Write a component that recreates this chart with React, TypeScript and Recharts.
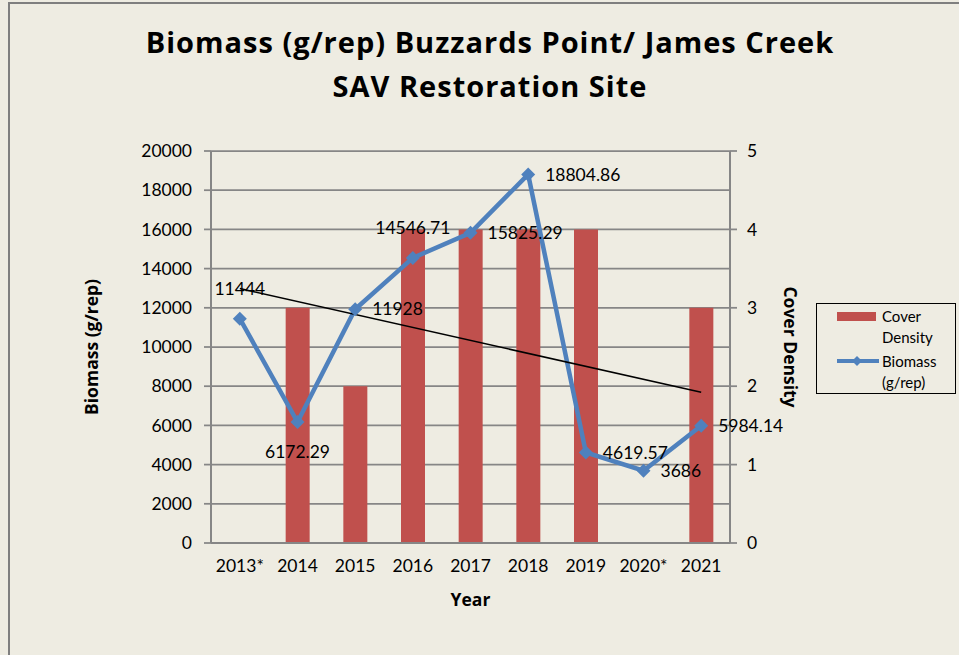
import React from 'react';
import { ComposedChart, Bar, Line, XAxis, YAxis, CartesianGrid, ReferenceLine, LabelList, Label } from 'recharts';

const years = ['2013*', '2014', '2015', '2016', '2017', '2018', '2019', '2020*', '2021'];
const coverDensity = [null, 3, 2, 4, 4, 4, 4, null, 3];
const biomass = [11444, 6172.29, 11928, 14546.71, 15825.29, 18804.86, 4619.57, 3686, 5984.14];
const biomassTicks = [0, 2000, 4000, 6000, 8000, 10000, 12000, 14000, 16000, 18000, 20000];
const densityTicks = [0, 1, 2, 3, 4, 5];
// linear trend of biomass, end values
const trendStart = 12980;
const trendEnd = 7690;

// where each biomass label sits relative to its point
const labelSide = ['top', 'bottom', 'right', 'top', 'right', 'right', 'right', 'right', 'right'];

const data = years.map((year, i) => ({ year, density: coverDensity[i], biomass: biomass[i] }));

const FONT = 'Lato, "Open Sans", sans-serif';
const BOLD_FONT = '"Open Sans", Lato, sans-serif';
const BG = '#EEECE2';
const GRID = '#868686';
const RED = '#C0504D';
const BLUE = '#4F81BD';

const Diamond = (props: any) => {
    const { cx, cy, index } = props;
    if (cx == null || cy == null) return null;
    const r = 7;
    return (
        <polygon
            key={`d-${index}`}
            points={`${cx},${cy - r} ${cx + r},${cy} ${cx},${cy + r} ${cx - r},${cy}`}
            fill={BLUE}
        />
    );
};

const BiomassLabel = (props: any) => {
    const { x, y, value, index } = props;
    const side = labelSide[index];
    let tx = x;
    let ty = y;
    let anchor = 'middle';
    if (side === 'top') ty = y - 30;
    else if (side === 'bottom') ty = y + 30;
    else {
        tx = x + 17;
        anchor = 'start';
    }
    return (
        <text x={tx} y={ty} dy="0.35em" textAnchor={anchor} fontSize={17.5} fill="#000" fontFamily={FONT}>
            {value}
        </text>
    );
};

const tickStyle = { fontSize: 17.5, fill: '#000', fontFamily: FONT };
const axisTitleStyle = { fontWeight: 700, fontSize: 17.5, fill: '#000', fontFamily: BOLD_FONT };

const App = () => {
    return (
        <div style={{ position: 'absolute', left: 0, top: 0, width: 959, height: 655, background: BG, overflow: 'hidden', fontFamily: FONT }}>
            {/* frame */}
            <div style={{ position: 'absolute', left: 8, top: 2, right: 0, bottom: 0, borderTop: '2px solid #7F7F7F', borderLeft: '2px solid #7F7F7F' }} />

            {/* title */}
            <div style={{ position: 'absolute', left: 90, top: 20, width: 800, textAlign: 'center', fontFamily: BOLD_FONT, fontWeight: 700, fontSize: 29, letterSpacing: 1, lineHeight: '44px', color: '#000' }}>
                Biomass (g/rep) Buzzards Point/ James Creek
                <br />
                SAV Restoration Site
            </div>

            <div style={{ position: 'absolute', left: 0, top: 0 }}>
                <ComposedChart width={959} height={655} data={data} margin={{ top: 151, right: 0, bottom: 46, left: 0 }}>
                    <CartesianGrid yAxisId="left" vertical={false} stroke={GRID} strokeWidth={1.75} />
                    <XAxis
                        dataKey="year"
                        interval={0}
                        height={66}
                        tickLine={false}
                        tickSize={0}
                        tickMargin={17}
                        axisLine={{ stroke: GRID, strokeWidth: 2 }}
                        tick={tickStyle}
                    >
                        <Label value="Year" position="insideBottom" offset={3} style={axisTitleStyle} />
                    </XAxis>
                    <YAxis
                        yAxisId="left"
                        width={211}
                        domain={[0, 20000]}
                        ticks={biomassTicks}
                        interval={0}
                        tickSize={7}
                        tickMargin={12}
                        tickLine={{ stroke: GRID, strokeWidth: 1.75 }}
                        axisLine={{ stroke: GRID, strokeWidth: 2 }}
                        tick={tickStyle}
                    >
                        <Label
                            value="Biomass (g/rep)"
                            angle={-90}
                            position="insideLeft"
                            offset={92}
                            style={{ ...axisTitleStyle, textAnchor: 'middle' }}
                        />
                    </YAxis>
                    <YAxis
                        yAxisId="right"
                        orientation="right"
                        width={229}
                        domain={[0, 5]}
                        ticks={densityTicks}
                        interval={0}
                        tickSize={7}
                        tickMargin={10}
                        tickLine={{ stroke: GRID, strokeWidth: 1.75 }}
                        axisLine={{ stroke: GRID, strokeWidth: 2 }}
                        tick={tickStyle}
                    >
                        <Label
                            value="Cover Density"
                            angle={90}
                            position="insideLeft"
                            offset={60}
                            style={{ ...axisTitleStyle, textAnchor: 'middle' }}
                        />
                    </YAxis>

                    <Bar yAxisId="right" dataKey="density" fill={RED} barSize={24} isAnimationActive={false} />

                    <Line
                        yAxisId="left"
                        dataKey="biomass"
                        stroke={BLUE}
                        strokeWidth={4.5}
                        dot={Diamond}
                        activeDot={false}
                        isAnimationActive={false}
                    >
                        <LabelList dataKey="biomass" content={BiomassLabel} />
                    </Line>

                    <ReferenceLine
                        yAxisId="left"
                        segment={[{ x: years[0], y: trendStart }, { x: years[years.length - 1], y: trendEnd }]}
                        stroke="#000"
                        strokeWidth={1.5}
                    />
                </ComposedChart>
            </div>

            {/* legend */}
            <div style={{ position: 'absolute', left: 816, top: 303, width: 140, height: 91, border: '1.5px solid #000', boxSizing: 'border-box', fontSize: 15, color: '#000' }}>
                <div style={{ position: 'absolute', left: 20, top: 8, width: 39, height: 9, background: RED }} />
                <div style={{ position: 'absolute', left: 65, top: 2, lineHeight: '21px' }}>
                    Cover
                    <br />
                    Density
                </div>
                <svg style={{ position: 'absolute', left: 19, top: 50 }} width={44} height={14}>
                    <line x1={1} y1={7} x2={43} y2={7} stroke={BLUE} strokeWidth={4} />
                    <polygon points="21,2 26,7 21,12 16,7" fill={BLUE} />
                </svg>
                <div style={{ position: 'absolute', left: 65, top: 47, lineHeight: '21px' }}>
                    Biomass
                    <br />
                    (g/rep)
                </div>
            </div>
        </div>
    );
};

export default App;
